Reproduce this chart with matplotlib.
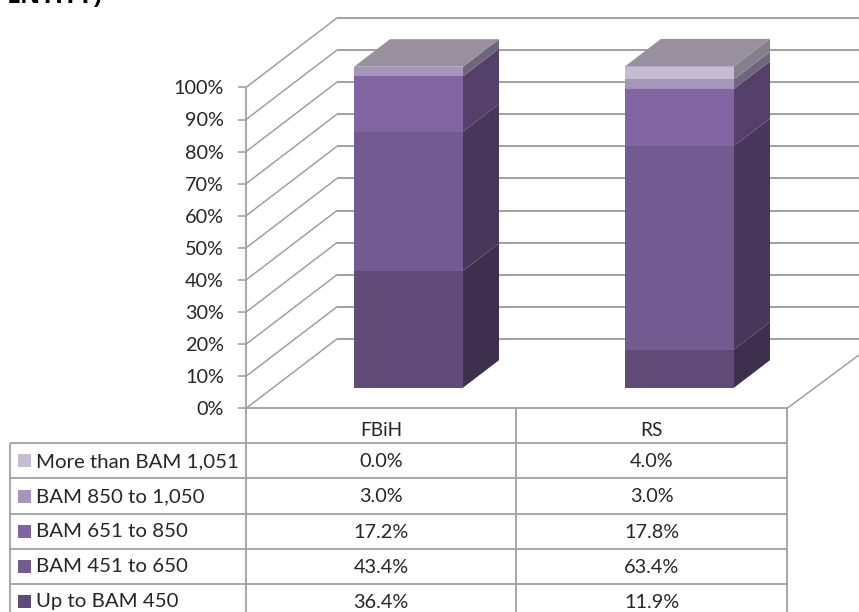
import matplotlib
matplotlib.use('Agg')
import matplotlib.pyplot as plt
from matplotlib.patches import Polygon, Rectangle
from matplotlib.transforms import Affine2D

W, H = 859, 612
categories = ['FBiH', 'RS']
series_names = ['Up to BAM 450', 'BAM 451 to 650', 'BAM 651 to 850', 'BAM 850 to 1,050', 'More than BAM 1,051']
up_to_450 = [36.4, 11.9]
bam_451_650 = [43.4, 63.4]
bam_651_850 = [17.2, 17.8]
bam_850_1050 = [3.0, 3.0]
more_1051 = [0.0, 4.0]
series_values = [up_to_450, bam_451_650, bam_651_850, bam_850_1050, more_1051]
y_ticks = list(range(0, 101, 10))

front_colors = ['#5f4a78', '#735a90', '#8065a2', '#a696bb', '#c5bcd3']
side_colors = ['#3e2f4f', '#48375b', '#54406a', '#6e657f', '#83808c']
top_color = '#98909f'
grid = '#a0a0a0'
txt = '#262626'
FS_TICK = 14.3
FS_LABEL = 14.7
FS_CELL = 14.3
FS_CAT = 13.7

plt.rcParams['font.family'] = ['Lato', 'DejaVu Sans']
fig = plt.figure(figsize=(W / 100, H / 100), dpi=100)
ax = fig.add_axes([0, 0, 1, 1])
X_U, Y_U = 271.0, 3.21
FY0 = 408.4
ax.set_xlim(-408.5 / X_U, (W - 408.5) / X_U)
ax.set_ylim((FY0 - H) / Y_U, FY0 / Y_U)
ax.axis('off')
px = Affine2D().scale(1 / W, -1 / H).translate(0, 1) + fig.transFigure

def line(xs, ys, z=1, lw=1.1):
    ax.plot(xs, ys, color=grid, lw=lw, transform=px, zorder=z, solid_capstyle='butt', clip_on=False)

# walls: pixel frame of the oblique plot
FX0, FX1 = 246, 787
DX, DY = 91, -69.5
for t in y_ticks:
    yf = FY0 - t * Y_U
    line([FX0, FX0 + DX], [yf, yf + DY])
    line([FX0 + DX, W], [yf + DY, yf + DY], lw=1.4)
    line([238, FX0], [yf, yf], lw=1.2)
    ax.annotate(f'{t}%', xy=(224, yf + 1.5), xycoords=px, ha='right', va='center',
                fontsize=FS_TICK, color=txt, zorder=5)
line([FX0, FX0], [FY0 - 100 * Y_U, FY0], lw=1.3)
line([FX0, FX1], [FY0, FY0], lw=1.3)
line([FX1, W], [FY0, 355])

# stacked oblique bars (data coordinates)
BW = 109 / X_U
BDX, BDY = 36 / X_U, 27.5 / Y_U
BASE = (FY0 - 387.7) / Y_U
for i in range(len(categories)):
    x0, x1 = i - BW / 2, i + BW / 2
    b = BASE
    for vals, fc, sc in zip(series_values, front_colors, side_colors):
        v = vals[i]
        if v <= 0:
            continue
        ax.add_patch(Rectangle((x0, b), BW, v, fc=fc, ec='none', zorder=3))
        ax.add_patch(Polygon([(x1, b), (x1 + BDX, b + BDY), (x1 + BDX, b + v + BDY), (x1, b + v)],
                             fc=sc, ec='none', zorder=3))
        b += v
    ax.add_patch(Polygon([(x0, b), (x1, b), (x1 + BDX, b + BDY), (x0 + BDX, b + BDY)],
                         fc=top_color, ec='none', zorder=3))

# data table
tx = [10, 246, 516, 787]
ty = [443.3, 478.4, 513.5, 548.8, 583.9]
for y in ty:
    line([tx[0], tx[3]], [y, y], lw=1.3)
line([tx[0], tx[0]], [ty[0], H], lw=1.3)
line([tx[1], tx[1]], [FY0, H], lw=1.3)
line([tx[2], tx[2]], [FY0, H], lw=1.3)
line([tx[3], tx[3]], [FY0, H], lw=1.3)
for j, c in enumerate(categories):
    ax.annotate(c, xy=((tx[j + 1] + tx[j + 2]) / 2, 431), xycoords=px, ha='center', va='center',
                fontsize=FS_CAT, color=txt)
rows = list(reversed(range(len(series_names))))
for r, s in enumerate(rows):
    yc = ty[r] + 17.6
    ax.add_patch(Rectangle((18, yc - 6.5), 13, 13, fc=front_colors[s], ec='none', transform=px, clip_on=False))
    ax.annotate(series_names[s], xy=(36, yc + 0.5), xycoords=px, ha='left', va='center',
                fontsize=FS_LABEL, color=txt)
    for j in range(len(categories)):
        ax.annotate(f'{series_values[s][j]:.1f}%', xy=((tx[j + 1] + tx[j + 2]) / 2, yc + 1), xycoords=px,
                    ha='center', va='center', fontsize=FS_CELL, color=txt)

# cropped heading remnant at the top edge
ax.annotate('ENTITY)', xy=(7, 3), xycoords=px, ha='left', va='baseline', fontsize=18,
            family='Open Sans', fontweight='bold', color='#000000', annotation_clip=False)

fig.savefig('out.png', dpi=100)
